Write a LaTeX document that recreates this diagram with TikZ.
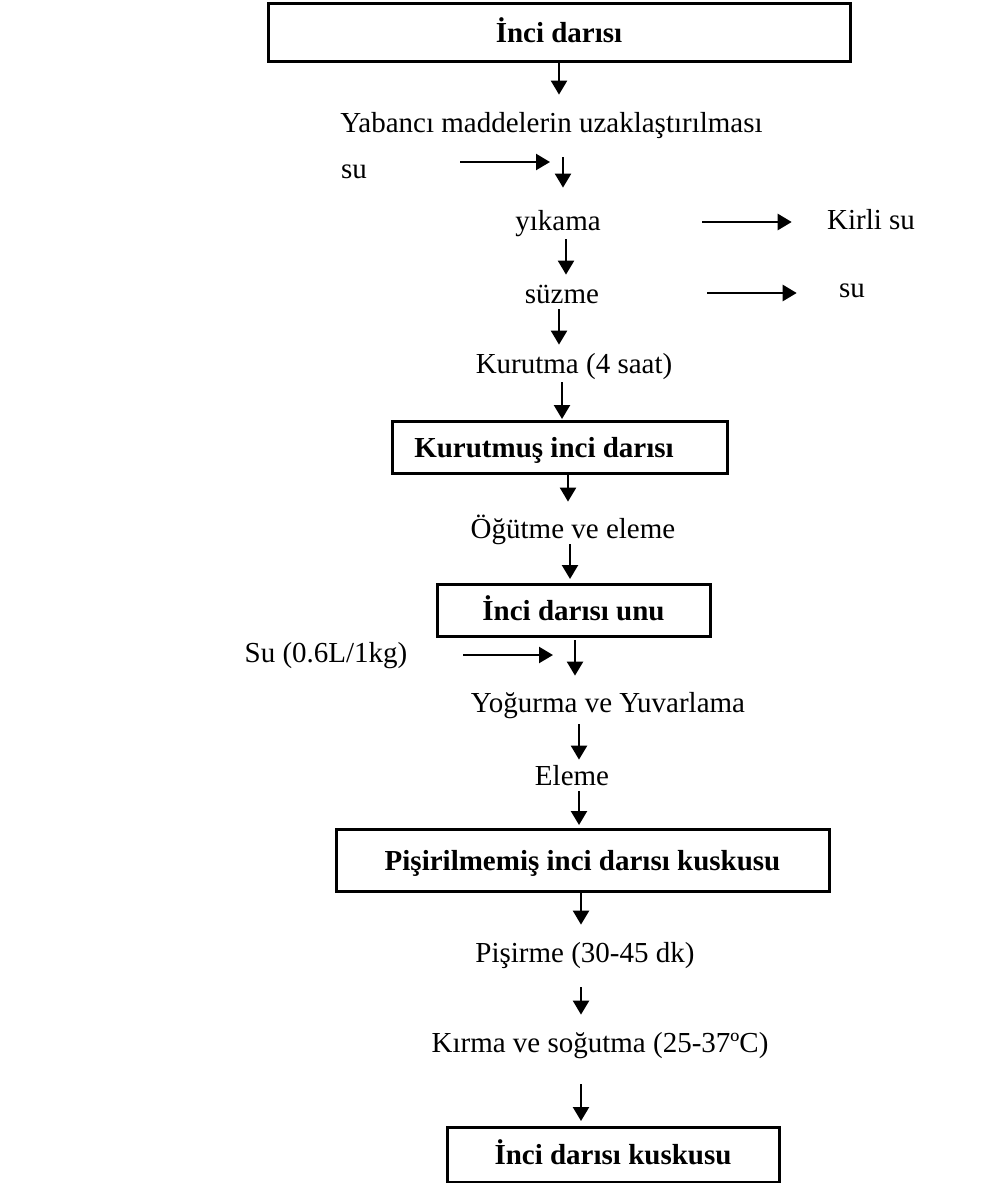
\documentclass[tikz,border=0pt]{standalone}
\usepackage{fontspec}
\setmainfont{Liberation Serif}
\usetikzlibrary{arrows.meta}

\tikzset{
  kutu/.style={draw, line width=1.5pt, inner sep=0pt, outer sep=0pt,
    font=\fontsize{14.5}{17}\selectfont\bfseries, text height=10pt, text depth=0pt},
  yazi/.style={anchor=base, inner sep=0pt, font=\fontsize{14.5}{17}\selectfont,
    text height=10pt, text depth=3pt},
  ok/.style={line width=1.2pt, -{Triangle[length=7pt,width=8pt]}}
}

\begin{document}
\begin{tikzpicture}[x=0.5pt,y=-0.5pt]
\useasboundingbox (0,0) rectangle (983,1183);

% kutular
\node[kutu, minimum width=291pt, minimum height=29pt] (kutu1) at (559,32) {İnci darısı};
\node[kutu, minimum width=167.5pt, minimum height=26pt] (kutu2) at (559.5,447) {Kurutmuş inci darısı\hspace*{15.5pt}};
\node[kutu, minimum width=136.5pt, minimum height=26pt] (kutu3) at (573.5,610) {İnci darısı unu};
\node[kutu, minimum width=246.5pt, minimum height=31pt] (kutu4) at (582.5,860) {Pişirilmemiş inci darısı kuskusu};
\node[kutu, minimum width=166pt, minimum height=27.5pt] (kutu5) at (613,1154.5) {İnci darısı kuskusu};

% adimlar
\node[yazi] (yabanci) at (551.5,132) {Yabancı maddelerin uzaklaştırılması};
\node[yazi] (su1) at (354,178) {su};
\node[yazi] (yikama) at (558,230) {yıkama};
\node[yazi] (kirli) at (871,229) {Kirli su};
\node[yazi] (suzme) at (562,303) {süzme};
\node[yazi] (su2) at (852,297) {su};
\node[yazi] (kurutma) at (574,373) {Kurutma (4 saat)};
\node[yazi] (ogutme) at (573,538) {Öğütme ve eleme};
\node[yazi] (su3) at (326,662) {Su (0.6L/1kg)};
\node[yazi] (yogurma) at (608,712) {Yoğurma ve Yuvarlama};
\node[yazi] (eleme) at (572,785) {Eleme};
\node[yazi] (pisirme) at (585,962) {Pişirme (30-45 dk)};
\node[yazi] (kirma) at (600,1052) {Kırma ve soğutma (25-37ºC)};

% dikey oklar
\draw[ok, shorten >=8.5pt] (559,0 |- kutu1.south) -- (559,0 |- yabanci.north);
\draw[ok, shorten <=9.5pt, shorten >=11pt] (563,0 |- yabanci.south) -- (563,0 |- yikama.north);
\draw[ok, shorten <=1.5pt, shorten >=4pt] (566,0 |- yikama.south) -- (566,0 |- suzme.north);
\draw[ok, shorten >=4pt] (559,0 |- suzme.south) -- (559,0 |- kurutma.north);
\draw[ok, shorten <=1.5pt, shorten >=1pt] (562,0 |- kurutma.south) -- (562,0 |- kutu2.north);
\draw[ok, shorten >=8pt] (568,0 |- kutu2.south) -- (568,0 |- ogutme.north);
\draw[ok, shorten >=2.5pt] (570,0 |- ogutme.south) -- (570,0 |- kutu3.north);
\draw[ok, shorten <=2pt, shorten >=8pt] (575,0 |- kutu3.south) -- (575,0 |- yogurma.north);
\draw[ok, shorten <=3pt, shorten >=2.5pt] (579,0 |- yogurma.south) -- (579,0 |- eleme.north);
\draw[ok, shorten >=2pt] (579,0 |- eleme.south) -- (579,0 |- kutu4.north);
\draw[ok, shorten >=8.5pt] (581,0 |- kutu4.south) -- (581,0 |- pisirme.north);
\draw[ok, shorten <=9.5pt, shorten >=8.5pt] (581,0 |- pisirme.south) -- (581,0 |- kirma.north);
\draw[ok, shorten <=13pt, shorten >=3pt] (581,0 |- kirma.south) -- (581,0 |- kutu5.north);

% yatay oklar
\coordinate (g1) at (550,162);
\coordinate (g2) at (553,655);
\draw[ok, shorten <=46.5pt] (su1.east |- g1) -- (g1);
\draw[ok, shorten <=50.5pt, shorten >=17.5pt] (yikama.east |- 0,222) -- (kirli.west |- 0,222);
\draw[ok, shorten <=54pt, shorten >=21pt] (suzme.east |- 0,293) -- (su2.west |- 0,293);
\draw[ok, shorten <=27.75pt] (su3.east |- g2) -- (g2);

\end{tikzpicture}
\end{document}
